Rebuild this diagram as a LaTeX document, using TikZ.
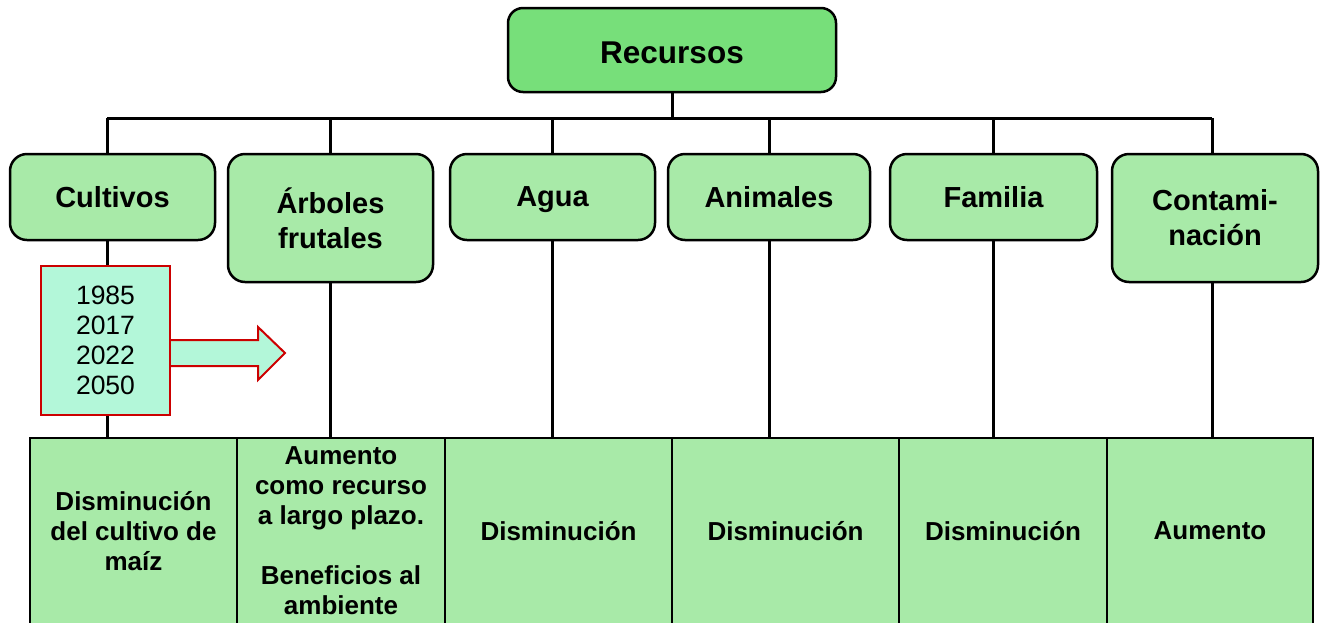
\documentclass[tikz,border=0pt]{standalone}
\usepackage{fontspec}
\setmainfont{Liberation Sans}
\usetikzlibrary{calc}
\definecolor{topgreen}{HTML}{77DF7A}
\definecolor{boxgreen}{HTML}{A8EAA8}
\definecolor{mint}{HTML}{B3F7D9}
\definecolor{darkred}{HTML}{CC0000}
\begin{document}
\begin{tikzpicture}[x=1pt,y=-1pt,
  topbox/.style={draw=black,line width=2.5pt,rounded corners=15pt,fill=topgreen,
    minimum width=328pt,minimum height=84pt,inner sep=0pt,
    font=\fontsize{31.5}{36}\selectfont\bfseries,align=center},
  subbox/.style={draw=black,line width=2.5pt,rounded corners=17pt,fill=boxgreen,
    minimum width=205pt,minimum height=86pt,inner sep=0pt,
    font=\fontsize{29}{35}\selectfont\bfseries,align=center},
  cell/.style={draw=black,line width=2pt,fill=boxgreen,minimum height=186pt,
    inner sep=0pt,font=\fontsize{26}{30}\selectfont\bfseries,align=center},
  years/.style={draw=darkred,line width=2pt,fill=mint,minimum width=129pt,
    minimum height=149pt,inner sep=0pt,font=\fontsize{26.5}{30}\selectfont,align=center},
  conn/.style={draw=black,line width=3pt}]
\useasboundingbox (0,0) rectangle (1325,622);

% top
\node[topbox] (rec) at (672,50) {\raisebox{-3pt}[\height][0pt]{Recursos}};

% bus coordinates
\coordinate (bus) at (672,118);
\coordinate (k1) at (107,118);
\coordinate (k2) at (330,118);
\coordinate (k3) at (552,118);
\coordinate (k4) at (769,118);
\coordinate (k5) at (993,118);
\coordinate (k6) at (1212,118);

% bottom table
\node[cell,minimum width=207pt] (b1) at (133.5,531) {Disminución\\del cultivo de\\maíz};
\node[cell,minimum width=208pt] (b2) at (341,531) {Aumento\\como recurso\\a largo plazo.\\[30pt]Beneficios al\\ambiente};
\node[cell,minimum width=227pt] (b3) at (558.5,531) {Disminución};
\node[cell,minimum width=227pt] (b4) at (785.5,531) {Disminución};
\node[cell,minimum width=208pt] (b5) at (1003,531) {Disminución};
\node[cell,minimum width=206pt] (b6) at (1210,531) {Aumento};

% connectors
\draw[conn] (rec.south) -- (bus);
\draw[conn] (k1) -- (k6);
\draw[conn] (k1) -- (k1 |- b1.north);
\draw[conn] (k2) -- (k2 |- b2.north);
\draw[conn] (k3) -- (k3 |- b3.north);
\draw[conn] (k4) -- (k4 |- b4.north);
\draw[conn] (k5) -- (k5 |- b5.north);
\draw[conn] (k6) -- (k6 |- b6.north);

% second level boxes
\node[subbox] (c1) at (112.5,197) {Cultivos};
\node[subbox,minimum height=128pt] (c2) at (330.5,218) {Árboles\\frutales};
\node[subbox] (c3) at (552.5,197) {\raisebox{0pt}[\height][0pt]{Agua}};
\node[subbox,minimum width=202pt] (c4) at (769,197) {Animales};
\node[subbox,minimum width=207pt] (c5) at (993.5,197) {Familia};
\node[subbox,minimum width=206pt,minimum height=128pt] (c6) at (1215,218) {Contami-\\nación};

% years box and arrow
\coordinate (ar) at (170,353);
\filldraw[draw=darkred,fill=mint,line width=2pt,line join=miter]
  ($(ar)+(0,-13)$) -- ++(88,0) -- ++(0,-13) -- ++(27,26) -- ++(-27,27) -- ++(0,-14) -- ++(-88,0);
\node[years] (yrs) at (105.5,340.5) {1985\\2017\\2022\\2050};
\end{tikzpicture}
\end{document}
